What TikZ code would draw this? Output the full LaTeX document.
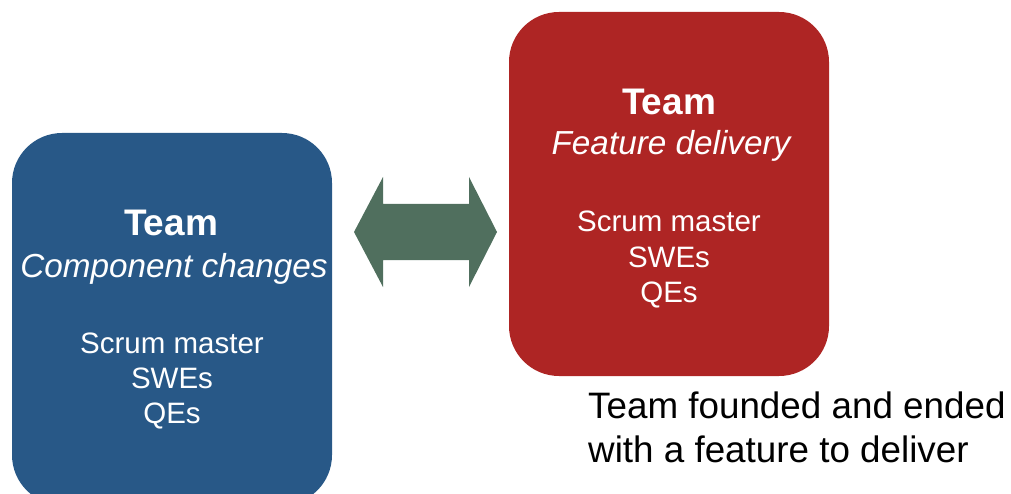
\documentclass[tikz,border=0pt]{standalone}
\usepackage{fontspec}
\setmainfont{Liberation Sans}
\definecolor{teamblue}{RGB}{40,88,135}
\definecolor{teamred}{RGB}{174,37,36}
\definecolor{arrowgreen}{RGB}{80,111,94}
\tikzset{
  teambox/.style={rounded corners=50pt, inner sep=0pt, minimum width=320pt, draw=none},
  titletext/.style={anchor=base, inner sep=0pt, text=white, font=\fontsize{37}{40}\selectfont\bfseries},
  subtext/.style={anchor=base, inner sep=0pt, text=white, font=\fontsize{33.3}{40}\selectfont\itshape},
  roletext/.style={anchor=base, inner sep=0pt, text=white, font=\fontsize{29.5}{34}\selectfont},
  notetext/.style={anchor=base west, inner sep=0pt, text=black, font=\fontsize{36.8}{44}\selectfont}
}
\begin{document}
\begin{tikzpicture}[x=1pt,y=-1pt]
\useasboundingbox (0,0) rectangle (1011,494);
\clip (0,0) rectangle (1011,494);
% boxes
\node[teambox, fill=teamblue, minimum height=372pt] (blue) at (172,319) {};
\node[teambox, fill=teamred, minimum height=364pt] (red) at (669,194) {};
% double arrow
\coordinate (al) at (354,232);
\coordinate (ar) at (497,232);
\fill[arrowgreen] (al) -- (383,177) -- (383,204) -- (469,204) -- (469,177) -- (ar)
  -- (469,287) -- (469,260) -- (383,260) -- (383,287) -- cycle;
% blue texts
\node[titletext] (bt1) at (171,236) {Team};
\node[subtext] (bt2) at (174,277) {Component changes};
\node[roletext] (br1) at (172,353) {Scrum master};
\node[roletext] (br2) at (172,388) {SWEs};
\node[roletext] (br3) at (172,423) {QEs};
% red texts
\node[titletext] (rt1) at (669,115) {Team};
\node[subtext] (rt2) at (671,155) {Feature delivery};
\node[roletext] (rr1) at (669,232) {Scrum master};
\node[roletext] (rr2) at (669,267) {SWEs};
\node[roletext] (rr3) at (669,302) {QEs};
% note
\node[notetext] (n1) at (588,418) {Team founded and ended};
\node[notetext] (n2) at (588,462) {with a feature to deliver};
\end{tikzpicture}
\end{document}
